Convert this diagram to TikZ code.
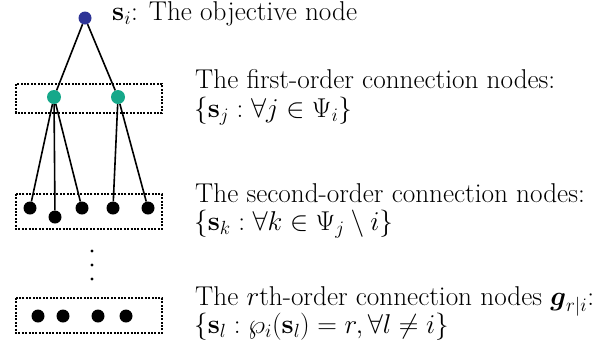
\RequirePackage{fix-cm}
\documentclass[tikz,border=0pt]{standalone}
\usepackage{amsmath}
\usepackage{amssymb}
\usepackage{xcolor}
\definecolor{objblue}{RGB}{46,52,150}
\definecolor{conngreen}{RGB}{22,168,138}

\begin{document}
\begin{tikzpicture}[x=1pt,y=-1pt,
  vertex/.style={circle,inner sep=0,minimum size=13pt},
  edge/.style={line width=1.6pt},
  group/.style={dash pattern=on 2pt off 1.4pt,line width=1.2pt},
  caption/.style={anchor=base west,inner sep=0,font=\fontsize{27.2}{30}\selectfont}]
\useasboundingbox (0,0) rectangle (607,349);
% dashed groups
\draw[group] (16,84) rectangle (162,113);
\draw[group] (16,194) rectangle (162,229);
\draw[group] (16,298) rectangle (162,333);
% objective node
\node[vertex,fill=objblue] (si) at (85,18) {};
% first order
\node[vertex,fill=conngreen,minimum size=14pt] (j1) at (54,97) {};
\node[vertex,fill=conngreen,minimum size=14pt] (j2) at (118,97) {};
% second order
\node[vertex,fill=black] (k1) at (30,208) {};
\node[vertex,fill=black] (k2) at (55,217) {};
\node[vertex,fill=black] (k3) at (82,208) {};
\node[vertex,fill=black] (k4) at (113,208) {};
\node[vertex,fill=black] (k5) at (148,208) {};
% rth order
\node[vertex,fill=black] (l1) at (38,316) {};
\node[vertex,fill=black] (l2) at (63,316) {};
\node[vertex,fill=black] (l3) at (98,316) {};
\node[vertex,fill=black] (l4) at (126,316) {};
% connections
\draw[edge] (si) -- (j1);
\draw[edge] (si) -- (j2);
\draw[edge] (j1) -- (k1);
\draw[edge] (j1) -- (k2);
\draw[edge] (j1) -- (k3);
\draw[edge] (j2) -- (k4);
\draw[edge] (j2) -- (k5);
% vertical dots
\fill (92,251) circle (1.7);
\fill (92,265) circle (1.7);
\fill (92,279) circle (1.7);
% captions
\node[caption] (t0) at (112,20) {$\mathbf{s}_i$: The objective node};
\node[caption] (t1a) at (195,88) {The first-order connection nodes:};
\node[caption] (t1b) at (194,117) {$\{\mathbf{s}_j:\forall j\in\Psi_i\}$};
\node[caption] (t2a) at (195,202) {The second-order connection nodes:};
\node[caption] (t2b) at (194,230) {$\{\mathbf{s}_k:\forall k\in\Psi_j\setminus i\}$};
\node[caption] (t3a) at (195,305) {The $r$th-order connection nodes $\boldsymbol{g}_{r|i}$:};
\node[caption] (t3b) at (194,333) {$\{\mathbf{s}_l:\wp_i(\mathbf{s}_l)=r,\forall l\neq i\}$};
\end{tikzpicture}
\end{document}
